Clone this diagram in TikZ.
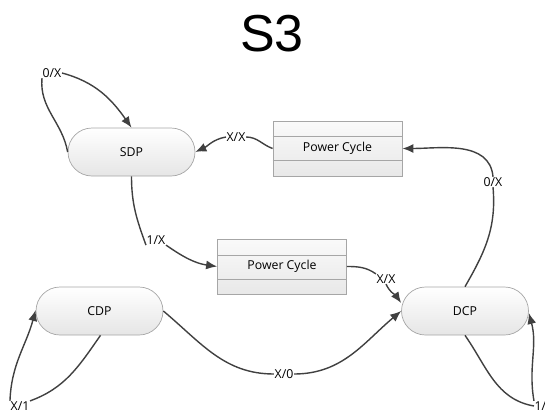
\documentclass[tikz,border=0pt]{standalone}
\usepackage{fontspec}
\setmainfont{Open Sans}
\newfontfamily\titlefont{Liberation Sans}
\usetikzlibrary{arrows.meta}
\definecolor{edgecol}{HTML}{404040}
\definecolor{boxline}{HTML}{A6A6A6}
\begin{document}
\begin{tikzpicture}[x=1pt,y=-1pt,
  state/.style={draw=boxline,line width=0.7pt,rounded corners=24pt,minimum width=127pt,minimum height=48pt,
    top color=white,bottom color=black!10,inner sep=0pt,font=\fontsize{12.3}{14}\selectfont},
  pcbox/.style={draw=boxline,line width=0.8pt,minimum width=129pt,minimum height=55pt,
    top color=black!2,bottom color=black!9,inner sep=0pt,font=\fontsize{12.3}{14}\selectfont},
  lbl/.style={inner sep=0.5pt,font=\fontsize{12.3}{14}\selectfont},
  edge/.style={draw=edgecol,line width=1.4pt},
  arr/.style={edge,-{Latex[length=11pt,width=9pt]}}]
\useasboundingbox (0,0) rectangle (545,415);
\node[font=\titlefont\fontsize{52}{52}\selectfont] (title) at (272,34) {S3};
\node[state] (sdp) at (131.5,152) {SDP};
\node[state] (cdp) at (99.5,311) {CDP};
\node[state] (dcp) at (465,311) {DCP};
\node[pcbox] (pct) at (337.5,148.5) {Power Cycle};
\draw[boxline,line width=0.8pt] ([yshift=12.5pt]pct.west) -- ([yshift=12.5pt]pct.east)
  ([yshift=-11.5pt]pct.west) -- ([yshift=-11.5pt]pct.east);
\node[pcbox] (pcm) at (282,266.5) {Power Cycle};
\draw[boxline,line width=0.8pt] ([yshift=11.5pt]pcm.west) -- ([yshift=11.5pt]pcm.east)
  ([yshift=-12.5pt]pcm.west) -- ([yshift=-12.5pt]pcm.east);
% labels
\node[lbl] (l0x) at (52,73) {0/X};
\node[lbl] (lxxa) at (236,137) {X/X};
\node[lbl] (l1x) at (156,240) {1/X};
\node[lbl] (lxxb) at (386,279) {X/X};
\node[lbl] (lx0) at (284,374) {X/0};
\node[lbl] (lx1) at (20,406) {X/1};
\node[lbl] (l1xb) at (544,406) {1/X};
\node[lbl] (l0xb) at (493,182) {0/X};
% edges
\draw[edge] (sdp.west) to[out=100,in=-95] (l0x.south west);
\draw[arr] (l0x.east) to[out=-15,in=125] (sdp.north);
\draw[edge] (pct.west) to[out=160,in=0] (lxxa.east);
\draw[arr] (lxxa.west) to[out=190,in=25] (sdp.east);
\draw[edge] (sdp.south) to[out=-90,in=110] (l1x.south west);
\draw[arr] (l1x.south east) to[out=-35,in=172] (pcm.west);
\draw[edge] (pcm.east) to[out=0,in=145] (lxxb.north west);
\draw[arr] (lxxb.south) to[out=-65,in=125] ([yshift=8pt]dcp.west);
\draw[edge] (cdp.east) to[out=-40,in=180] (lx0.west);
\draw[arr] (lx0.east) to[out=0,in=-140] (dcp.west);
\draw[edge] ([xshift=1pt]cdp.south) to[out=-125,in=20] (lx1.north east);
\draw[arr] (lx1.north west) to[out=88,in=-105] ([yshift=1pt]cdp.west);
\draw[edge] (dcp.south) to[out=-55,in=170] (l1xb.west);
\draw[arr] (l1xb.north west) to[out=100,in=-75] ([yshift=-2pt]dcp.east);
\draw[edge] (dcp.north) to[out=60,in=-85] (l0xb.south);
\draw[arr] (l0xb.north) to[out=95,in=0] (pct.east);
\end{tikzpicture}
\end{document}
